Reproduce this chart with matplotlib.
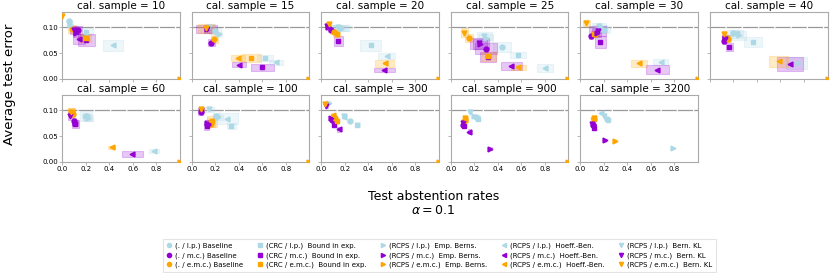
import numpy as np
import matplotlib
matplotlib.use('Agg')
import matplotlib.pyplot as plt
from matplotlib.patches import Rectangle
from matplotlib.lines import Line2D

# Calibration sample sizes (one panel each)
cal_samples = [10, 15, 20, 25, 30, 40, 60, 100, 300, 900, 3200]

# Score types (columns of every array below)
score_names = ['l.p.', 'm.c.', 'e.m.c.']
score_colors = ['#add8e6', '#9400d3', '#ffa500']

# Baseline: mean abstention (x), mean error (y), and half widths of the boxes
baseline_x = [[0.054, 0.131, 0.083], [0.20, 0.165, 0.19], [0.157, 0.08, 0.108], [0.436, 0.30, 0.154],
              [0.17, 0.091, 0.125], [0.20, 0.122, 0.157], [0.20, 0.10, 0.09], [0.21, 0.077, 0.165],
              [0.242, 0.09, 0.117], [0.214, 0.108, 0.115], [0.228, 0.105, 0.114]]
baseline_y = [[0.112, 0.095, 0.097], [0.093, 0.070, 0.078], [0.099, 0.096, 0.092], [0.062, 0.059, 0.080],
              [0.098, 0.083, 0.088], [0.090, 0.074, 0.077], [0.090, 0.080, 0.093], [0.090, 0.097, 0.074],
              [0.080, 0.082, 0.085], [0.087, 0.0725, 0.080], [0.084, 0.072, 0.084]]
baseline_xerr = [[0.012, 0.04, 0.03], [0.05, 0.03, 0.03], [0.07, 0.02, 0.03], [0.075, 0.09, 0.035],
                 [0.06, 0.02, 0.03], [0.05, 0.02, 0.02], [0.03, 0.02, 0.02], [0.03, 0.02, 0.03],
                 [0.015, 0.01, 0.015], [0.015, 0.01, 0.01], [0.015, 0.008, 0.01]]
baseline_yerr = [[0.004, 0.008, 0.007], [0.006, 0.007, 0.008], [0.005, 0.004, 0.005], [0.01, 0.01, 0.008],
                 [0.006, 0.005, 0.005], [0.006, 0.006, 0.006], [0.005, 0.005, 0.005], [0.005, 0.005, 0.007],
                 [0.004, 0.004, 0.004], [0.003, 0.003, 0.003], [0.003, 0.003, 0.003]]

# CRC - Bound in expectation
crc_x = [[0.205, 0.205, 0.19], [0.62, 0.60, 0.507], [0.42, 0.145, 0.131], [0.57, 0.315, 0.32],
         [0.20, 0.171, 0.12], [0.365, 0.165, 0.15], [0.205, 0.11, 0.08], [0.336, 0.128, 0.171],
         [0.305, 0.108, 0.137], [0.233, 0.11, 0.12], [0.236, 0.114, 0.118]]
crc_y = [[0.092, 0.075, 0.080], [0.040, 0.0225, 0.040], [0.065, 0.073, 0.087], [0.046, 0.043, 0.044],
         [0.095, 0.072, 0.0865], [0.072, 0.062, 0.080], [0.089, 0.074, 0.097], [0.069, 0.069, 0.079],
         [0.0725, 0.0725, 0.079], [0.084, 0.069, 0.084], [0.082, 0.066, 0.083]]
crc_xerr = [[0.055, 0.07, 0.04], [0.07, 0.10, 0.08], [0.09, 0.04, 0.03], [0.07, 0.07, 0.065],
            [0.05, 0.05, 0.03], [0.075, 0.03, 0.02], [0.05, 0.03, 0.03], [0.04, 0.02, 0.045],
            [0.02, 0.015, 0.015], [0.015, 0.01, 0.012], [0.015, 0.01, 0.01]]
crc_yerr = [[0.007, 0.012, 0.008], [0.006, 0.007, 0.008], [0.011, 0.01, 0.006], [0.006, 0.01, 0.009],
            [0.006, 0.012, 0.006], [0.01, 0.007, 0.006], [0.009, 0.008, 0.007], [0.006, 0.007, 0.011],
            [0.005, 0.005, 0.005], [0.004, 0.004, 0.004], [0.003, 0.003, 0.003]]

# RCPS - Empirical Bernstein
eb_x = [[0.07, 0.12, 1.0], [0.228, 0.13, 1.0], [0.17, 0.06, 1.0], [0.30, 0.25, 1.0],
        [0.19, 0.14, 1.0], [0.25, 0.13, 1.0], [0.22, 0.11, 1.0], [0.222, 0.13, 1.0],
        [0.063, 0.085, 1.0], [0.20, 0.333, 1.0], [0.784, 0.208, 0.291]]
eb_y = [[0.105, 0.09, 0.0], [0.087, 0.097, 0.0], [0.099, 0.10, 0.0], [0.080, 0.068, 0.0],
        [0.097, 0.09, 0.0], [0.085, 0.08, 0.0], [0.085, 0.076, 0.0], [0.087, 0.075, 0.0],
        [0.115, 0.0857, 0.0], [0.09, 0.0255, 0.0], [0.027, 0.042, 0.041]]
eb_xerr = [[0.02, 0.03, 0.0], [0.03, 0.03, 0.0], [0.07, 0.02, 0.0], [0.06, 0.06, 0.0],
           [0.04, 0.04, 0.0], [0.06, 0.03, 0.0], [0.04, 0.02, 0.0], [0.04, 0.02, 0.0],
           [0.015, 0.015, 0.0], [0.015, 0.02, 0.0], [0.01, 0.01, 0.01]]
eb_yerr = [[0.005, 0.008, 0.0], [0.005, 0.008, 0.0], [0.005, 0.004, 0.0], [0.008, 0.01, 0.0],
           [0.006, 0.008, 0.0], [0.009, 0.006, 0.0], [0.006, 0.006, 0.0], [0.005, 0.006, 0.0],
           [0.004, 0.004, 0.0], [0.003, 0.003, 0.0], [0.002, 0.003, 0.003]]

# RCPS - Hoeffding-Bentkus
hb_x = [[0.433, 0.145, 0.20], [0.712, 0.40, 0.393], [0.556, 0.535, 0.54], [0.80, 0.513, 0.575],
        [0.684, 0.655, 0.50], [0.74, 0.678, 0.584], [0.78, 0.596, 0.419], [0.30, 0.14, 0.16],
        [0.194, 0.148, 0.10], [0.22, 0.157, 0.125], [0.177, 0.11, 0.11]]
hb_y = [[0.065, 0.078, 0.079], [0.032, 0.0275, 0.040], [0.044, 0.018, 0.030], [0.021, 0.0256, 0.0225],
        [0.033, 0.018, 0.030], [0.031, 0.029, 0.034], [0.0216, 0.0157, 0.028], [0.084, 0.076, 0.08],
        [0.088, 0.063, 0.091], [0.086, 0.059, 0.082], [0.0955, 0.07, 0.086]]
hb_xerr = [[0.085, 0.05, 0.04], [0.06, 0.06, 0.06], [0.07, 0.09, 0.08], [0.07, 0.09, 0.065],
           [0.065, 0.10, 0.065], [0.09, 0.11, 0.08], [0.04, 0.09, 0.03], [0.09, 0.02, 0.03],
           [0.015, 0.015, 0.015], [0.012, 0.012, 0.01], [0.01, 0.01, 0.01]]
hb_yerr = [[0.011, 0.01, 0.008], [0.005, 0.005, 0.006], [0.006, 0.004, 0.006], [0.008, 0.008, 0.005],
           [0.006, 0.009, 0.006], [0.012, 0.013, 0.01], [0.004, 0.006, 0.003], [0.011, 0.006, 0.006],
           [0.004, 0.004, 0.004], [0.003, 0.004, 0.003], [0.003, 0.003, 0.003]]

# RCPS - Bernoulli KL
kl_x = [[0.06, 0.10, 0.0], [0.15, 0.128, 0.125], [0.14, 0.05, 0.063], [0.285, 0.242, 0.114],
        [0.157, 0.148, 0.051], [0.228, 0.13, 0.12], [0.21, 0.068, 0.077], [0.148, 0.08, 0.08],
        [0.194, 0.043, 0.034], [0.162, 0.105, 0.118], [0.20, 0.10, 0.115]]
kl_y = [[0.108, 0.095, 0.123], [0.10, 0.0975, 0.098], [0.10, 0.103, 0.106], [0.083, 0.069, 0.090],
        [0.1025, 0.093, 0.109], [0.088, 0.078, 0.0865], [0.088, 0.089, 0.0975], [0.102, 0.10, 0.102],
        [0.09, 0.108, 0.113], [0.0975, 0.075, 0.086], [0.09, 0.074, 0.085]]
kl_xerr = [[0.02, 0.03, 0.0], [0.04, 0.09, 0.07], [0.05, 0.02, 0.02], [0.065, 0.08, 0.03],
           [0.06, 0.07, 0.03], [0.057, 0.02, 0.02], [0.03, 0.02, 0.03], [0.04, 0.02, 0.02],
           [0.02, 0.01, 0.01], [0.015, 0.01, 0.01], [0.01, 0.008, 0.01]]
kl_yerr = [[0.006, 0.007, 0.0], [0.006, 0.008, 0.008], [0.005, 0.004, 0.004], [0.008, 0.01, 0.008],
           [0.006, 0.009, 0.006], [0.008, 0.006, 0.006], [0.006, 0.008, 0.007], [0.005, 0.004, 0.004],
           [0.004, 0.004, 0.004], [0.003, 0.003, 0.003], [0.003, 0.003, 0.003]]

alpha = 0.1

# (prefix, name, marker, data)
methods = [
    ('.', 'Baseline', 'o', baseline_x, baseline_y, baseline_xerr, baseline_yerr),
    ('CRC', ' Bound in exp.', 's', crc_x, crc_y, crc_xerr, crc_yerr),
    ('RCPS', ' Emp. Berns.', '>', eb_x, eb_y, eb_xerr, eb_yerr),
    ('RCPS', ' Hoeff.-Ben.', '<', hb_x, hb_y, hb_xerr, hb_yerr),
    ('RCPS', ' Bern. KL', 'v', kl_x, kl_y, kl_xerr, kl_yerr),
]

fig, axes = plt.subplots(2, 6, sharex=True, sharey=True, figsize=(8.3, 2.73), dpi=100)
fig.subplots_adjust(left=0.075, right=0.997, top=0.956, bottom=0.407, wspace=0.1, hspace=0.24)

for i, n in enumerate(cal_samples):
    ax = axes.flat[i]
    ax.axhline(alpha, color='#999999', lw=0.9, ls=(0, (12, 1)), zorder=1)
    for prefix, name, marker, xs, ys, xe, ye in methods:
        for c in range(3):
            x, y = xs[i][c], ys[i][c]
            dx, dy = xe[i][c], ye[i][c]
            col = score_colors[c]
            if dx > 0:
                ax.add_patch(Rectangle((x - dx, y - dy), 2 * dx, 2 * dy, facecolor=col, alpha=0.22,
                                       edgecolor=col, lw=0.8, zorder=2))
            ax.plot(x, y, marker=marker, color=col, ms=3.5, ls='none', zorder=3)
    ax.set_title(f'cal. sample = {n}', fontsize=7.5, pad=2)

for ax in axes.flat:
    ax.set_xlim(0, 1)
    ax.set_ylim(0, 0.13)
    ax.set_xticks([0.0, 0.2, 0.4, 0.6, 0.8])
    ax.set_yticks([0.0, 0.05, 0.10])
    ax.tick_params(labelsize=5, length=2, width=0.5, color='#999999', pad=1)
    for s in ax.spines.values():
        s.set_color('#aaaaaa')
        s.set_linewidth(0.8)
axes[1, 5].axis('off')

fig.text(0.012, 0.69, 'Average test error', rotation=90, ha='center', va='center', fontsize=9.5)
fig.text(0.522, 0.255, 'Test abstention rates\n$\\alpha = 0.1$', ha='center', va='center',
         fontsize=9, linespacing=1.1)

# Legend: one entry per (method, score type)
handles = []
for prefix, name, marker, *_ in methods:
    for c in range(3):
        label = f'({prefix} / {score_names[c]}) {name}'
        handles.append(Line2D([], [], marker=marker, color=score_colors[c], ls='none', ms=3, label=label))

leg = fig.legend(handles=handles, ncol=5, loc='center', bbox_to_anchor=(0.529, 0.064), fontsize=5,
                 frameon=True, handlelength=1.0, handletextpad=0.3, columnspacing=1.95,
                 labelspacing=0.45, borderpad=0.5, fancybox=False)
leg.get_frame().set_edgecolor('#dddddd')
leg.get_frame().set_linewidth(0.8)

plt.savefig('out.png', dpi=100)
plt.close()
